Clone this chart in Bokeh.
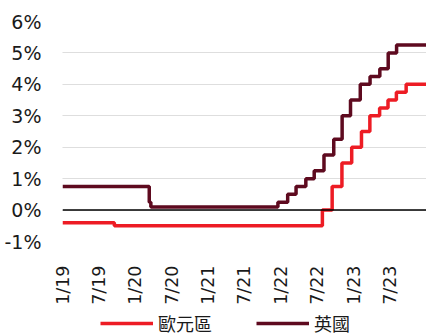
import math
import pandas as pd
from bokeh.plotting import figure
from bokeh.layouts import column
from bokeh.models import (Range1d, FixedTicker, PrintfTickFormatter, Span, Legend, LegendItem)
from bokeh.embed import file_html
from bokeh.resources import INLINE

# Data: policy rate decisions (date, rate %)
ez_dates = ["2019-01-01", "2019-09-18", "2022-07-27", "2022-09-14", "2022-11-02",
            "2022-12-21", "2023-02-08", "2023-03-22", "2023-05-10", "2023-06-21",
            "2023-08-02", "2023-09-20", "2023-12-31"]
ez_rates = [-0.4, -0.5, 0.0, 0.75, 1.5, 2.0, 2.5, 3.0, 3.25, 3.5, 3.75, 4.0, 4.0]

uk_dates = ["2019-01-01", "2020-03-11", "2020-03-19", "2021-12-16", "2022-02-03",
            "2022-03-17", "2022-05-05", "2022-06-16", "2022-08-04", "2022-09-22",
            "2022-11-03", "2022-12-15", "2023-02-02", "2023-03-23", "2023-05-11",
            "2023-06-22", "2023-08-03", "2023-12-31"]
uk_rates = [0.75, 0.25, 0.1, 0.25, 0.5, 0.75, 1.0, 1.25, 1.75, 2.25, 3.0, 3.5, 4.0,
            4.25, 4.5, 5.0, 5.25, 5.25]

x_tick_dates = ["2019-01-01", "2019-07-01", "2020-01-01", "2020-07-01", "2021-01-01",
                "2021-07-01", "2022-01-01", "2022-07-01", "2023-01-01", "2023-07-01"]
x_tick_labels = ["1/19", "7/19", "1/20", "7/20", "1/21", "7/21", "1/22", "7/22", "1/23", "7/23"]
y_ticks = [-1, 0, 1, 2, 3, 4, 5, 6]

series_names = ["歐元區", "英國"]
RED = "#ED1C24"
MAROON = "#5E0A1F"
FONT = "DejaVu Sans"
CJK = "Noto Sans CJK TC"

ez_x = pd.to_datetime(ez_dates)
uk_x = pd.to_datetime(uk_dates)

p = figure(frame_width=364, frame_height=220, x_axis_type="datetime", output_backend="svg",
           toolbar_location=None,
           x_range=Range1d(pd.Timestamp("2019-01-01"), pd.Timestamp("2023-12-31")),
           y_range=Range1d(-1, 6),
           min_border_left=62, min_border_right=0, min_border_top=21, min_border_bottom=70)
p.outline_line_color = None
p.background_fill_color = "white"
p.border_fill_color = "white"

# grid
p.xgrid.grid_line_color = None
p.ygrid.grid_line_color = "#BDBDBD"
p.ygrid.grid_line_dash = "1 1"
p.ygrid.grid_line_width = 1

# zero line
p.add_layout(Span(location=0, dimension="width", line_color="black", line_width=1.5))

p.step(uk_x, uk_rates, mode="after", line_color=MAROON, line_width=3.5)
p.step(ez_x, ez_rates, mode="after", line_color=RED, line_width=3.5)

# axes
tick_ms = [pd.Timestamp(d).value // 10**6 for d in x_tick_dates]
p.xaxis.ticker = FixedTicker(ticks=tick_ms)
p.xaxis.major_label_overrides = {t: l for t, l in zip(tick_ms, x_tick_labels)}
p.xaxis.major_label_orientation = math.pi / 2
p.xaxis.axis_line_color = None
p.xaxis.major_tick_line_color = None
p.xaxis.minor_tick_line_color = None
p.xaxis.major_label_standoff = 18
p.xaxis.major_label_text_font = FONT
p.xaxis.major_label_text_font_size = "17.5px"
p.xaxis.major_label_text_color = "#1a1a1a"

p.yaxis.ticker = FixedTicker(ticks=y_ticks)
p.yaxis.formatter = PrintfTickFormatter(format="%d%%")
p.yaxis.axis_line_color = None
p.yaxis.major_tick_line_color = None
p.yaxis.minor_tick_line_color = None
p.yaxis.major_label_standoff = 15
p.yaxis.major_label_text_font = FONT
p.yaxis.major_label_text_font_size = "19px"
p.yaxis.major_label_text_color = "#1a1a1a"

# legend strip (its series lie outside this strip's ranges; only the swatches show)
lg = figure(width=426, height=25, output_backend="svg", toolbar_location=None,
            x_axis_location=None, y_axis_location=None,
            x_range=Range1d(0, 1), y_range=Range1d(0, 1), min_border=0)
lg.outline_line_color = None
lg.grid.grid_line_color = None
l_ez = lg.step(ez_x, ez_rates, mode="after", line_color=RED, line_width=3.5)
l_uk = lg.step(uk_x, uk_rates, mode="after", line_color=MAROON, line_width=3.5)
legend = Legend(items=[LegendItem(label=series_names[0], renderers=[l_ez]),
                       LegendItem(label=series_names[1], renderers=[l_uk])],
                orientation="horizontal", location=(38, 0),
                glyph_width=53, glyph_height=18, label_height=18, label_standoff=5, spacing=44,
                label_text_font=CJK, label_text_font_size="18px",
                label_text_color="#1a1a1a", border_line_color=None,
                background_fill_alpha=0, padding=0, margin=0)
lg.add_layout(legend, "center")

open("out.html", "w").write(file_html(column(p, lg, spacing=0), INLINE))
